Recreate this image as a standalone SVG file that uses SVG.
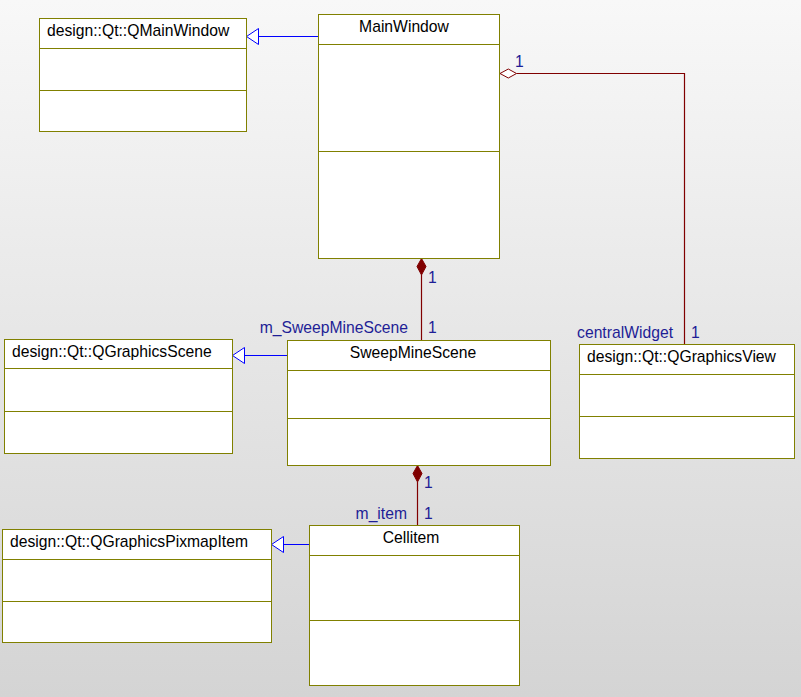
<svg xmlns="http://www.w3.org/2000/svg" width="801" height="697" viewBox="0 0 801 697">
<defs>
<linearGradient id="bg" x1="0" y1="0" x2="0" y2="1">
<stop offset="0" stop-color="#f8f8f8"/>
<stop offset="1" stop-color="#d4d4d4"/>
</linearGradient>
<style>
.box{fill:#fff;stroke:#808000;stroke-width:1}
.div{stroke:#808000;stroke-width:1}
.name{font-family:"Liberation Sans",Arial,sans-serif;font-size:15.7px;fill:#000}
.lbl{font-family:"Liberation Sans",Arial,sans-serif;font-size:15.7px;fill:#1e1e96}
.gen{stroke:#0000ff;stroke-width:1;fill:none}
.genhead{stroke:#0000ff;stroke-width:1;fill:#fff}
.comp{stroke:#800000;stroke-width:1.2;fill:none}
.dia{stroke:#800000;stroke-width:1;fill:#800000}
.agg{stroke:#800000;stroke-width:1;fill:#fff}
</style>
</defs>
<rect x="0" y="0" width="801" height="697" fill="url(#bg)"/>

<g id="connectors">
<line class="gen" x1="318.5" y1="36.5" x2="258.5" y2="36.5"/>
<polygon class="genhead" points="246.5,36.5 258.5,28.5 258.5,44.5"/>
<line class="gen" x1="287.5" y1="355.5" x2="244.5" y2="355.5"/>
<polygon class="genhead" points="232.5,355.5 244.5,347.5 244.5,363.5"/>
<line class="gen" x1="309.5" y1="544.5" x2="283.5" y2="544.5"/>
<polygon class="genhead" points="271.5,544.5 283.5,536.5 283.5,552.5"/>
<polyline class="comp" points="516.5,73.5 684.5,73.5 684.5,344.5"/>
<polygon class="agg" points="500,73.5 508.3,69 516.5,73.5 508.3,78"/>
<line class="comp" x1="421.5" y1="275" x2="421.5" y2="340.5"/>
<polygon class="dia" points="421.5,258.5 426,266.5 421.5,275 417,266.5"/>
<line class="comp" x1="417.5" y1="482" x2="417.5" y2="525.5"/>
<polygon class="dia" points="417.5,465.5 422,473.5 417.5,482 413,473.5"/>
<text class="lbl" x="515" y="67">1</text>
<text class="lbl" x="428" y="283">1</text>
<text class="lbl" x="408" y="333" text-anchor="end">m_SweepMineScene</text>
<text class="lbl" x="428" y="333">1</text>
<text class="lbl" x="673" y="338" text-anchor="end">centralWidget</text>
<text class="lbl" x="691" y="338">1</text>
<text class="lbl" x="424" y="488">1</text>
<text class="lbl" x="407" y="519" text-anchor="end">m_item</text>
<text class="lbl" x="424" y="519">1</text>
</g>

<g id="QMainWindow">
<rect class="box" x="39.5" y="18.5" width="207" height="113"/>
<line class="div" x1="39.5" y1="48.5" x2="246.5" y2="48.5"/>
<line class="div" x1="39.5" y1="90.5" x2="246.5" y2="90.5"/>
<text class="name" x="47" y="36">design::Qt::QMainWindow</text>
</g>

<g id="MainWindow">
<rect class="box" x="318.5" y="14.5" width="181" height="244"/>
<line class="div" x1="318.5" y1="44.5" x2="499.5" y2="44.5"/>
<line class="div" x1="318.5" y1="151.5" x2="499.5" y2="151.5"/>
<text class="name" x="404" y="32" text-anchor="middle">MainWindow</text>
</g>

<g id="QGraphicsScene">
<rect class="box" x="4.5" y="339.5" width="228" height="114"/>
<line class="div" x1="4.5" y1="368.5" x2="232.5" y2="368.5"/>
<line class="div" x1="4.5" y1="411.5" x2="232.5" y2="411.5"/>
<text class="name" x="12" y="357">design::Qt::QGraphicsScene</text>
</g>

<g id="SweepMineScene">
<rect class="box" x="287.5" y="340.5" width="263" height="125"/>
<line class="div" x1="287.5" y1="370.5" x2="550.5" y2="370.5"/>
<line class="div" x1="287.5" y1="418.5" x2="550.5" y2="418.5"/>
<text class="name" x="413" y="358" text-anchor="middle">SweepMineScene</text>
</g>

<g id="QGraphicsView">
<rect class="box" x="579.5" y="344.5" width="215" height="114"/>
<line class="div" x1="579.5" y1="374.5" x2="794.5" y2="374.5"/>
<line class="div" x1="579.5" y1="416.5" x2="794.5" y2="416.5"/>
<text class="name" x="587" y="362">design::Qt::QGraphicsView</text>
</g>

<g id="QGraphicsPixmapItem">
<rect class="box" x="2.5" y="529.5" width="269" height="113"/>
<line class="div" x1="2.5" y1="559.5" x2="271.5" y2="559.5"/>
<line class="div" x1="2.5" y1="601.5" x2="271.5" y2="601.5"/>
<text class="name" x="10" y="547">design::Qt::QGraphicsPixmapItem</text>
</g>

<g id="CellItem">
<rect class="box" x="309.5" y="525.5" width="210" height="160"/>
<line class="div" x1="309.5" y1="555.5" x2="519.5" y2="555.5"/>
<line class="div" x1="309.5" y1="620.5" x2="519.5" y2="620.5"/>
<text class="name" x="411" y="543" text-anchor="middle">Cellitem</text>
</g>
</svg>
